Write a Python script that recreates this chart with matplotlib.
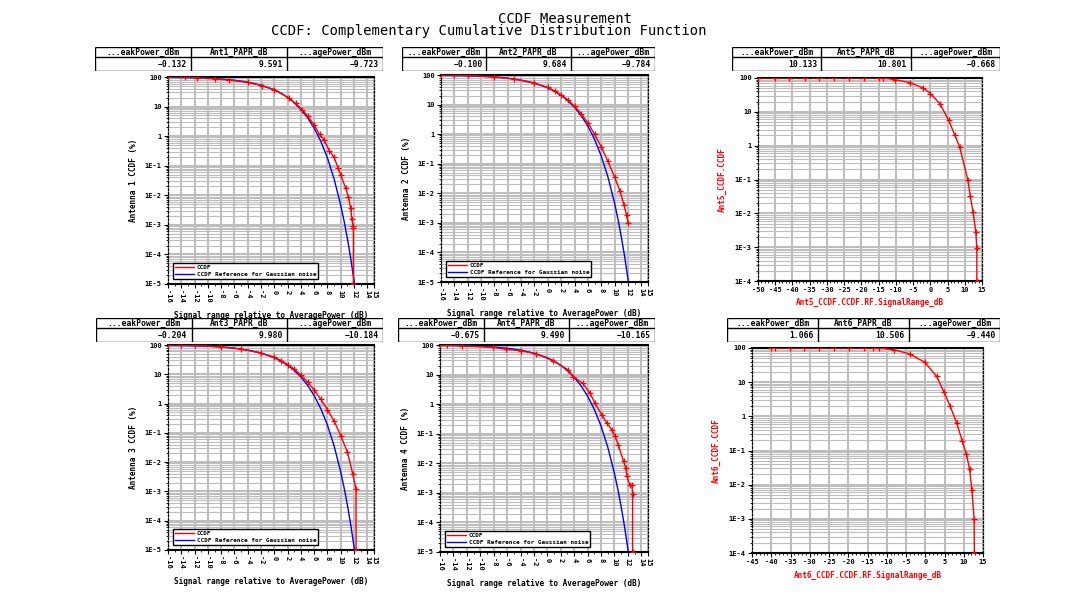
import matplotlib
matplotlib.use("Agg")
import numpy as np
import matplotlib.pyplot as plt
from matplotlib.ticker import FixedLocator, FuncFormatter, LogLocator, MultipleLocator, NullFormatter

# ---- data ----
# Gaussian noise reference (blue), dB vs CCDF %
ref_db = [-16, -12, -10, -8, -6, -4, -2, 0, 1, 2, 3, 4, 5, 6, 7, 8, 9, 10, 10.5, 11, 11.5, 12.07]
ref_pct = [97.5, 93.9, 90.5, 85.3, 77.8, 67.2, 53.2, 36.8, 28.4, 20.5, 13.6, 8.11, 4.23, 1.87,
           0.666, 0.182, 0.0355, 0.00454, 0.00134, 0.000341, 0.000073, 0.00001]

ant1_db = [-16, -13.5, -11.7, -9, -6.8, -4, -1.8, 0, 2.2, 3.2, 4.2, 5, 6, 6.8, 7.5, 8.3, 9.0,
           9.6, 10.0, 10.75, 11.15, 11.5, 11.65, 11.85, 11.9, 11.9]
ant1_pct = [100, 99, 93, 87, 78, 66, 50, 37, 19.5, 12.8, 7.8, 4.8, 2.4, 1.15, 0.72, 0.32, 0.19,
            0.085, 0.048, 0.017, 0.009, 0.0036, 0.0016, 0.0009, 0.0008, 0.00001]

ant2_db = [-16, -14, -12, -8, -5, -2, 0, 1, 2, 3, 4, 5, 6, 7, 8, 9, 10, 10.8, 11.4, 11.8, 12.0]
ant2_pct = [100, 99, 96.5, 86, 73, 53, 38, 29, 21, 14.5, 8.8, 4.9, 2.4, 1.0, 0.37, 0.12, 0.035,
            0.012, 0.004, 0.0018, 0.001]

ant3_db = [-16, -14, -12, -8, -5, -2, 0, 1, 2, 3, 4, 5, 6, 7, 8, 9, 10, 11, 11.8, 12.3, 12.3]
ant3_pct = [100, 99, 96.5, 86, 73, 53, 38, 29.5, 21.5, 15, 9.5, 5.5, 2.9, 1.4, 0.62, 0.25, 0.08,
            0.022, 0.004, 0.0012, 0.00001]

ant4_db = [-16, -14.9, -12.65, -8.15, -6.15, -3.9, -1.65, 0.85, 3.1, 3.85, 5.25, 6.35, 7.1, 8.1,
           8.85, 9.6, 10.1, 10.6, 11.35, 11.7, 11.85, 12.25, 12.6, 12.7, 12.7]
ant4_pct = [100, 100, 92.5, 83.4, 71.4, 64, 50, 29.7, 14.4, 8.6, 5.1, 2.35, 1.08, 0.44, 0.23,
            0.136, 0.081, 0.040, 0.0118, 0.0069, 0.0038, 0.0019, 0.0018, 0.00095, 0.00001]

ant5_db = [-50, -45.2, -40.9, -36.5, -32.2, -27.9, -23.5, -19.2, -14.9, -13.7, -10.3, -5.9, -2.1,
           0.05, 2.75, 5.3, 7.1, 8.5, 10.9, 11.6, 12.4, 13.2, 13.5, 13.5]
ant5_pct = [100, 100, 100, 100, 100, 100, 100, 100, 100, 100, 89.7, 73, 50.7, 34.7, 17.6, 5.7,
            2.06, 0.93, 0.096, 0.032, 0.011, 0.0028, 0.00093, 0.0001]

ant6_db = [-40, -39.1, -35.2, -31.4, -27.5, -23.6, -19.7, -15.9, -13.5, -12.0, -8.1, -4.0, -0.07,
           2.97, 4.87, 6.4, 8.2, 9.6, 10.7, 11.5, 12.1, 12.7, 12.75]
ant6_pct = [100, 100, 100, 100, 100, 100, 100, 100, 100, 99, 89, 66.7, 37.8, 14.7, 5.1, 2.07,
            0.63, 0.19, 0.077, 0.029, 0.0071, 0.00097, 0.0001]

# summary tables (panel order: top-left, top-mid, top-right, bottom-left, bottom-mid, bottom-right)
ant_names = ["Ant1", "Ant2", "Ant5", "Ant3", "Ant4", "Ant6"]
peak_dbm = [-0.132, -0.100, 10.133, -0.204, -0.675, 1.066]
papr_db = [9.591, 9.684, 10.801, 9.980, 9.490, 10.506]
avg_dbm = [-9.723, -9.784, -0.668, -10.184, -10.165, -9.440]

left_xticks = [-16, -14, -12, -10, -8, -6, -4, -2, 0, 2, 4, 6, 8, 10, 12, 14, 15]
top_right_xticks = [-50, -45, -40, -35, -30, -25, -20, -15, -10, -5, 0, 5, 10, 15]
bot_right_xticks = [-45, -40, -35, -30, -25, -20, -15, -10, -5, 0, 5, 10, 15]

title_1 = "CCDF Measurement"
title_2 = "CCDF: Complementary Cumulative Distribution Function"
left_xlabel = "Signal range relative to AveragePower (dB)"

# ---- figure ----
W, H = 1076, 602
MONO = "DejaVu Sans Mono"
RED = "#FF0000"
BLUE = "#0000FF"
GRID = "#BEBEBE"

fig = plt.figure(figsize=(W / 100, H / 100), dpi=100)
fig.patch.set_facecolor("white")


def px_axes(x0, y0, x1, y1):
    return fig.add_axes([x0 / W, 1 - y1 / H, (x1 - x0) / W, (y1 - y0) / H])


def pct_fmt(v, pos):
    if v >= 1:
        return f"{v:g}"
    return f"1E{int(round(np.log10(v)))}"


def style_ccdf(ax, xlim, ylim, xticks, rotate):
    ax.set_yscale("log")
    ax.set_xlim(*xlim)
    ax.set_ylim(*ylim)
    ax.xaxis.set_major_locator(FixedLocator(xticks))
    ax.xaxis.set_minor_locator(MultipleLocator(1))
    ax.set_xticklabels([str(t) for t in xticks])
    ax.yaxis.set_major_locator(LogLocator(base=10, numticks=20))
    ax.yaxis.set_minor_locator(LogLocator(base=10, subs=range(2, 10), numticks=20))
    ax.yaxis.set_major_formatter(FuncFormatter(pct_fmt))
    ax.yaxis.set_minor_formatter(NullFormatter())
    ax.grid(which="major", axis="both", color=GRID, lw=1.5)
    ax.grid(which="minor", axis="y", color=GRID, lw=0.8)
    ax.set_axisbelow(True)
    ax.tick_params(which="major", length=3, width=0.8, labelsize=5, pad=1.5)
    ax.tick_params(which="minor", length=1.5, width=0.6)
    for lab in ax.get_xticklabels() + ax.get_yticklabels():
        lab.set_fontfamily(MONO)
        lab.set_fontweight("bold")
    if rotate:
        for lab in ax.get_xticklabels():
            lab.set_rotation(270)
            lab.set_va("top")
    for s in ("top", "bottom"):
        ax.spines[s].set_linewidth(1.5)
    for s in ("left", "right"):
        ax.spines[s].set_linewidth(0.9)
        ax.spines[s].set_linestyle((0, (1.5, 1.5)))


def add_table(x0, y0, x1, y1, name, peak, papr, avg):
    t = px_axes(x0, y0, x1, y1)
    t.set_xlim(0, 1)
    t.set_ylim(0, 1)
    t.axis("off")
    split = 0.57
    kw = dict(color="black", lw=1.0, solid_capstyle="butt")
    for yy in (0, split, 1):
        t.plot([0, 1], [yy, yy], **kw)
    for xx in (0, 1 / 3, 2 / 3, 1):
        t.plot([xx, xx], [0, 1], **kw)
    heads = ["...eakPower_dBm", f"{name}_PAPR_dB", "...agePower_dBm"]
    vals = [f"{peak:.3f}", f"{papr:.3f}", f"{avg:.3f}"]
    for i in range(3):
        t.text((i + 0.5) / 3, (1 + split) / 2, heads[i], ha="center", va="center",
               fontsize=5.8, fontfamily=MONO, fontweight="bold")
        t.text((i + 1) / 3 - 0.015, split / 2, vals[i].replace("-", "\u2212"), ha="right",
               va="center", fontsize=5.8, fontfamily=MONO, fontweight="bold")


def left_panel(rect, tbl, idx, db, pct, ylabel):
    ax = px_axes(*rect)
    ax.plot(ref_db, ref_pct, color=BLUE, lw=1.0, label="CCDF Reference for Gaussian noise", zorder=3)
    ax.plot(db, pct, color=RED, lw=1.0, marker="+", ms=4, mew=0.9, zorder=4)
    # legend order: CCDF first
    hr, = ax.plot([], [], color=RED, lw=1.0)
    hb, = ax.plot([], [], color=BLUE, lw=1.0)
    style_ccdf(ax, (-16, 15), (1e-5, 100), left_xticks, rotate=True)
    leg = ax.legend([hr, hb], ["CCDF", "CCDF Reference for Gaussian noise"], loc="lower left",
                    prop={"family": MONO, "weight": "bold", "size": 4.3}, frameon=True,
                    fancybox=False, edgecolor="black", framealpha=1, borderpad=0.3,
                    labelspacing=0.2, handlelength=3.2, handletextpad=0.4, borderaxespad=0.9)
    leg.get_frame().set_linewidth(1.0)
    w = rect[2] - rect[0]
    h = rect[3] - rect[1]
    ax.set_ylabel(ylabel, fontsize=5.6, fontfamily=MONO, fontweight="bold")
    ax.yaxis.set_label_coords(-30 / w, 0.5)
    ax.set_xlabel(left_xlabel, fontsize=5.6, fontfamily=MONO, fontweight="bold")
    ax.xaxis.set_label_coords(0.5, -27 / h)
    add_table(*tbl, ant_names[idx], peak_dbm[idx], papr_db[idx], avg_dbm[idx])
    return ax


def right_panel(rect, tbl, idx, db, pct, xlim, xticks, ylabel, xlabel, xlab_off):
    ax = px_axes(*rect)
    ax.plot(db, pct, color=RED, lw=1.0, marker="+", ms=4, mew=0.9, zorder=4)
    style_ccdf(ax, xlim, (1e-4, 100), xticks, rotate=False)
    w = rect[2] - rect[0]
    h = rect[3] - rect[1]
    ax.set_ylabel(ylabel, fontsize=5.6, fontfamily=MONO, fontweight="bold", color=RED)
    ax.yaxis.set_label_coords(-31 / w, 0.5)
    ax.set_xlabel(xlabel, fontsize=5.6, fontfamily=MONO, fontweight="bold", color=RED)
    ax.xaxis.set_label_coords(0.5, -xlab_off / h)
    add_table(*tbl, ant_names[idx], peak_dbm[idx], papr_db[idx], avg_dbm[idx])
    return ax


left_panel((168, 77, 374, 284), (95, 47, 383, 71), 0, ant1_db, ant1_pct, "Antenna 1 CCDF (%)")
left_panel((441, 75, 648, 282), (402, 47, 655, 71), 1, ant2_db, ant2_pct, "Antenna 2 CCDF (%)")
right_panel((758, 78, 982, 281), (732, 47, 1000, 71), 2, ant5_db, ant5_pct, (-50, 15),
            top_right_xticks, "Ant5_CCDF.CCDF", "Ant5_CCDF.CCDF.RF.SignalRange_dB", 17)
left_panel((168, 345, 374, 550), (96, 318, 383, 342), 3, ant3_db, ant3_pct, "Antenna 3 CCDF (%)")
left_panel((440, 345, 648, 552), (398, 318, 655, 342), 4, ant4_db, ant4_pct, "Antenna 4 CCDF (%)")
right_panel((752, 348, 983, 553), (727, 318, 1000, 342), 5, ant6_db, ant6_pct, (-45, 15),
            bot_right_xticks, "Ant6_CCDF.CCDF", "Ant6_CCDF.CCDF.RF.SignalRange_dB", 18)

fig.text(565 / W, 1 - 19 / H, title_1, ha="center", va="center", fontsize=10, fontfamily=MONO)
fig.text(489 / W, 1 - 31 / H, title_2, ha="center", va="center", fontsize=10, fontfamily=MONO)

fig.savefig("out.png", dpi=100, facecolor="white")
